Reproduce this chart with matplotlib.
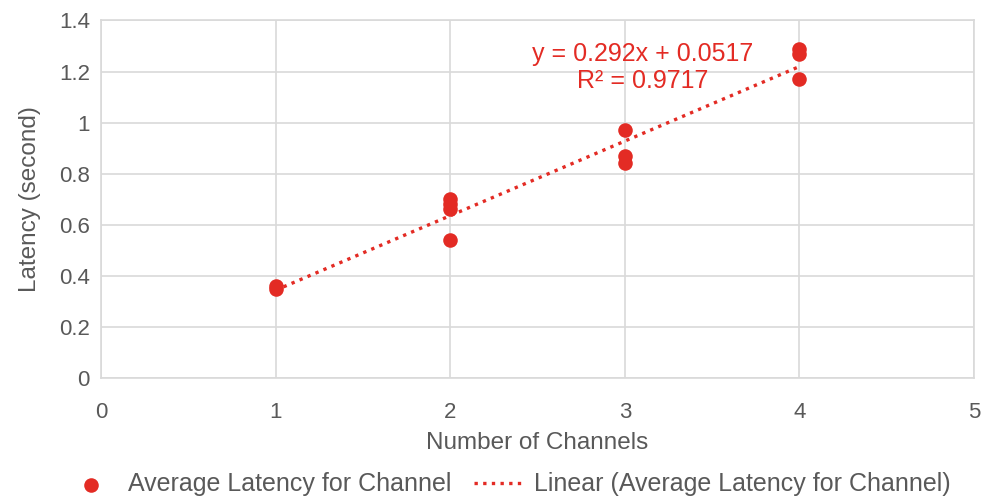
import matplotlib
matplotlib.use("Agg")
import matplotlib.pyplot as plt
import numpy as np

plt.rcParams['font.family'] = ['Liberation Sans', 'DejaVu Sans']

# Measured latency per run, grouped by number of channels
channels = [1, 1, 2, 2, 2, 2, 3, 3, 3, 4, 4, 4]
latency = [0.35, 0.36, 0.70, 0.68, 0.66, 0.54, 0.97, 0.87, 0.84, 1.29, 1.27, 1.17]

# Linear trendline coefficients
slope = 0.292
intercept = 0.0517
r_squared = 0.9717

x_ticks = [0, 1, 2, 3, 4, 5]
y_ticks = [0, 0.2, 0.4, 0.6, 0.8, 1, 1.2, 1.4]
y_tick_labels = ['0', '0.2', '0.4', '0.6', '0.8', '1', '1.2', '1.4']

red = '#e32b24'
text_gray = '#595959'
grid_gray = '#d9d9d9'

fig = plt.figure(figsize=(9.94, 4.99), dpi=100)
ax = fig.add_axes([0.1016, 0.2425, 0.8784, 0.7165])

ax.scatter(channels, latency, s=110, color=red, zorder=3, linewidths=0,
           label='Average Latency for Channel')

xs = np.array([min(channels), max(channels)])
ax.plot(xs, slope * xs + intercept, color=red, linestyle=(0, (1, 1.6)),
        linewidth=2.4, zorder=2, label='Linear (Average Latency for Channel)')

ax.set_xlim(0, 5)
ax.set_ylim(0, 1.4)
ax.set_xticks(x_ticks)
ax.set_yticks(y_ticks)
ax.set_yticklabels(y_tick_labels)
ax.grid(True, color=grid_gray, linewidth=1.2, zorder=0)
ax.set_axisbelow(True)
for side in ['left', 'right', 'top', 'bottom']:
    ax.spines[side].set_color(grid_gray)
    ax.spines[side].set_linewidth(1.2)
ax.tick_params(axis='y', length=0, labelsize=16, colors=text_gray, pad=8)
ax.tick_params(axis='x', length=0, labelsize=16, colors=text_gray, pad=17)

ax.set_xlabel('Number of Channels', fontsize=17.5, color=text_gray, labelpad=7)
ax.set_ylabel('Latency (second)', fontsize=17.5, color=text_gray, labelpad=13)

ax.text(3.1, 1.215, f'y = {slope}x + {intercept}\nR² = {r_squared}',
        ha='center', va='center', color=red, fontsize=18, linespacing=1.15)

fig.legend(loc='lower center', bbox_to_anchor=(0.512, -0.04), ncol=2,
           frameon=False, fontsize=18, labelcolor=text_gray,
           handlelength=1.9, columnspacing=0.9, handletextpad=0.5)

fig.savefig('out.png', dpi=100)
